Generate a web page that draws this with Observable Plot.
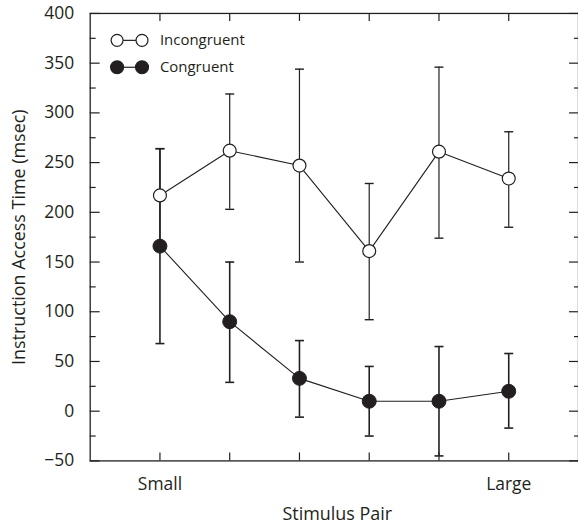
<!DOCTYPE html>
<html>
<head>
<meta charset="utf-8">
<script src="https://cdn.jsdelivr.net/npm/d3@7"></script>
<script src="https://cdn.jsdelivr.net/npm/@observablehq/plot@0.6"></script>
<style>
  html, body { margin: 0; padding: 0; background: white; overflow: hidden; }
  svg { display: block; }
</style>
</head>
<body>
<div id="chart"></div>
<script>
// ---- data ----
const positions = [1, 2, 3, 4, 5, 6];
const incongruentMean = [217, 262, 247, 161, 261, 234];
const incongruentLow  = [170, 203, 150, 92, 174, 185];
const incongruentHigh = [264, 319, 344, 229, 346, 281];
const congruentMean = [166, 90, 33, 10, 10, 20];
const congruentLow  = [68, 29, -6, -25, -45, -17];
const congruentHigh = [264, 150, 71, 45, 65, 58];
const xTickPositions = [1, 6];
const xTickLabels = ["Small", "Large"];
const yMajorTicks = [-50, 0, 50, 100, 150, 200, 250, 300, 350, 400];
const yMinorTicks = [-25, 25, 75, 125, 175, 225, 275, 325, 375];
const seriesNames = ["Incongruent", "Congruent"];
const xTitle = "Stimulus Pair";
const yTitle = "Instruction Access Time (msec)";

// ---- build tables ----
const inc = positions.map((x, i) => ({x, y: incongruentMean[i], lo: incongruentLow[i], hi: incongruentHigh[i]}));
const con = positions.map((x, i) => ({x, y: congruentMean[i], lo: congruentLow[i], hi: congruentHigh[i]}));

const ink = "#231f20";
const font = "'Open Sans', 'Noto Sans', sans-serif";
const W = 580, H = 528, ML = 90, MR = 0, MT = 13, MB = 66;
const PW = W - ML - MR, PH = H - MT - MB;

const capSymbol = { draw(ctx) { ctx.moveTo(-4.5, 0); ctx.lineTo(4.5, 0); } };
const legendLine = { draw(ctx) { ctx.moveTo(0, 0); ctx.lineTo(25, 0); } };
const yFmt = d => d < 0 ? "\u2212" + (-d) : String(d);

const legendMarks = [];
const legendFills = ["white", ink];
const legendR = [6, 6.5];
seriesNames.forEach((name, i) => {
  const dy = 27 + i * 27;
  legendMarks.push(
    Plot.dot([name], {frameAnchor: "top-left", dx: 27, dy, symbol: legendLine, fill: "none", stroke: ink, strokeWidth: 1.2}),
    Plot.dot([name], {frameAnchor: "top-left", dx: 27, dy, r: legendR[i], fill: legendFills[i], stroke: ink, strokeWidth: 1.2}),
    Plot.dot([name], {frameAnchor: "top-left", dx: 52, dy, r: legendR[i], fill: legendFills[i], stroke: ink, strokeWidth: 1.2}),
    Plot.text([name], {frameAnchor: "top-left", dx: 70, dy, text: d => d, textAnchor: "start", lineAnchor: "middle", fontSize: 15, fill: ink})
  );
});

const chart = Plot.plot({
  width: W, height: H,
  marginLeft: ML, marginRight: MR, marginTop: MT, marginBottom: MB,
  x: {domain: [0, 7]},
  y: {domain: [-50, 400]},
  style: {fontFamily: font, color: ink, background: "white"},
  marks: [
    // tick marks (inward)
    Plot.tickY(yMajorTicks, {y: d => d, insetRight: PW - 10, stroke: ink, strokeWidth: 1.2}),
    Plot.tickY(yMinorTicks, {y: d => d, insetRight: PW - 6, stroke: ink, strokeWidth: 1.2}),
    Plot.tickY(yMajorTicks, {y: d => d, insetLeft: PW - 9, stroke: ink, strokeWidth: 1.2}),
    Plot.tickY(yMinorTicks, {y: d => d, insetLeft: PW - 4, stroke: ink, strokeWidth: 1.2}),
    Plot.tickX(positions, {x: d => d, insetBottom: PH - 8, stroke: ink, strokeWidth: 1.2}),
    Plot.tickX(positions, {x: d => d, insetTop: PH - 8, stroke: ink, strokeWidth: 1.2}),
    // axis labels
    Plot.axisY(yMajorTicks, {tickSize: 0, tickPadding: 16, tickFormat: yFmt, fontSize: 17.5, label: null}),
    Plot.axisX(xTickPositions, {tickSize: 0, tickPadding: 17, tickFormat: d => xTickLabels[xTickPositions.indexOf(d)], fontSize: 17.5, label: null}),
    Plot.frame({stroke: ink, strokeWidth: 1.3}),
    // error bars
    Plot.ruleX(inc, {x: "x", y1: "lo", y2: "hi", stroke: ink, strokeWidth: 1.2}),
    Plot.dot(inc, {x: "x", y: "hi", symbol: capSymbol, fill: "none", stroke: ink, strokeWidth: 1.4}),
    Plot.dot(inc, {x: "x", y: "lo", symbol: capSymbol, fill: "none", stroke: ink, strokeWidth: 1.4}),
    Plot.ruleX(con, {x: "x", y1: "lo", y2: "hi", stroke: ink, strokeWidth: 1.6}),
    Plot.dot(con, {x: "x", y: "hi", symbol: capSymbol, fill: "none", stroke: ink, strokeWidth: 1.6}),
    Plot.dot(con, {x: "x", y: "lo", symbol: capSymbol, fill: "none", stroke: ink, strokeWidth: 1.6}),
    // lines
    Plot.line(inc, {x: "x", y: "y", stroke: ink, strokeWidth: 1.1}),
    Plot.line(con, {x: "x", y: "y", stroke: ink, strokeWidth: 1.1}),
    // points
    Plot.dot(inc, {x: "x", y: "y", r: 6.5, fill: "white", stroke: ink, strokeWidth: 1.2}),
    Plot.dot(con, {x: "x", y: "y", r: 7, fill: ink, stroke: ink, strokeWidth: 1}),
    // legend
    ...legendMarks,
    // titles
    Plot.text([yTitle], {frameAnchor: "left", dx: -65, rotate: -90, text: d => d, textAnchor: "middle", lineAnchor: "bottom", fontSize: 18, fill: ink}),
    Plot.text([xTitle], {frameAnchor: "bottom", dx: 3, dy: 59, text: d => d, textAnchor: "middle", lineAnchor: "bottom", fontSize: 18, fill: ink})
  ]
});
document.getElementById("chart").appendChild(chart);
</script>
</body>
</html>
